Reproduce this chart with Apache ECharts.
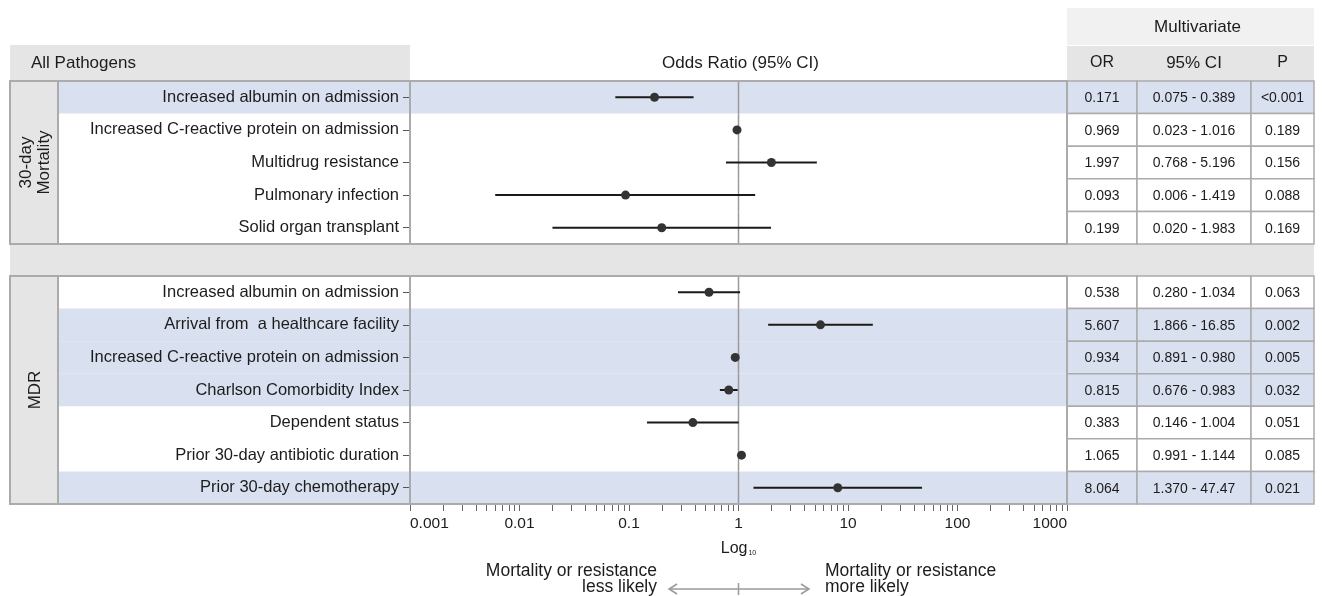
<!DOCTYPE html>
<html>
<head>
<meta charset="utf-8">
<script src="https://cdn.jsdelivr.net/npm/echarts@6/dist/echarts.min.js"></script>
<style>
  html, body { margin: 0; padding: 0; background: #fff; }
  #main { width: 1322px; height: 596px; }
</style>
</head>
<body>
<div id="main"></div>
<script>
// 30-day mortality panel
var mortLabels = ['Increased albumin on admission', 'Increased C-reactive protein on admission', 'Multidrug resistance', 'Pulmonary infection', 'Solid organ transplant']
var mortOR = [0.171, 0.969, 1.997, 0.093, 0.199]
// CI ends as drawn in the plot
var mortLow = [0.075, 0.94, 0.768, 0.006, 0.020]
var mortHigh = [0.389, 1.016, 5.196, 1.419, 1.983]
var mortORText = ['0.171', '0.969', '1.997', '0.093', '0.199']
var mortCIText = ['0.075 - 0.389', '0.023 - 1.016', '0.768 - 5.196', '0.006 - 1.419', '0.020 - 1.983']
var mortP = ['<0.001', '0.189', '0.156', '0.088', '0.169']
var mortBlue = [1, 0, 0, 0, 0]

// MDR panel
var mdrLabels = ['Increased albumin on admission', 'Arrival from  a healthcare facility', 'Increased C-reactive protein on admission', 'Charlson Comorbidity Index', 'Dependent status', 'Prior 30-day antibiotic duration', 'Prior 30-day chemotherapy']
var mdrOR = [0.538, 5.607, 0.934, 0.815, 0.383, 1.065, 8.064]
var mdrLow = [0.280, 1.866, 0.891, 0.676, 0.146, 0.991, 1.370]
var mdrHigh = [1.034, 16.85, 0.980, 0.983, 1.004, 1.144, 47.47]
var mdrORText = ['0.538', '5.607', '0.934', '0.815', '0.383', '1.065', '8.064']
var mdrCIText = ['0.280 - 1.034', '1.866 - 16.85', '0.891 - 0.980', '0.676 - 0.983', '0.146 - 1.004', '0.991 - 1.144', '1.370 - 47.47']
var mdrP = ['0.063', '0.002', '0.005', '0.032', '0.051', '0.085', '0.021']
var mdrBlue = [0, 1, 1, 1, 0, 0, 1]

var tickLabels = [0.001, 0.01, 0.1, 1, 10, 100, 1000]

var FONT = "'Liberation Sans', Arial, sans-serif"
var BLUE = '#d9e0f0'
var GREY = '#e5e5e5'
var LINE = '#ababab'
var TXT = '#1c1c1c'

// layout (px)
var X0 = 10, STRIP = 58, PL = 410, PR = 1067, C1 = 1137, C2 = 1251, TR = 1314
var TOP1 = 81, H1 = 163, TOP2 = 276, H2 = 228

var minorTicks = []
tickLabels.forEach(function (t, k) {
  if (k === tickLabels.length - 1) { minorTicks.push(t); return }
  for (var m = 1; m < 10; m++) minorTicks.push(+(t * m).toPrecision(3))
})

function rowSeries (idx, ors, cis, ps, blue) {
  return {
    type: 'custom',
    xAxisIndex: idx,
    yAxisIndex: idx,
    z: 1,
    silent: true,
    data: ors.map(function (v, i) { return [1, i] }),
    renderItem: function (params, api) {
      var i = api.value(1)
      var y = api.coord([1, i])[1]
      var h = params.coordSys.height / ors.length
      var top = y - h / 2
      var fill = blue[i] ? BLUE : '#fff'
      var kids = []
      if (blue[i]) {
        kids.push({ type: 'rect', shape: { x: STRIP, y: top, width: PR - STRIP, height: h }, style: { fill: BLUE } })
      }
      var cols = [[PR, C1, ors[i]], [C1, C2, cis[i]], [C2, TR, ps[i]]]
      cols.forEach(function (c) {
        kids.push({ type: 'rect', shape: { x: c[0], y: top, width: c[1] - c[0], height: h }, style: { fill: fill, stroke: LINE, lineWidth: 1.5 } })
        kids.push({ type: 'text', x: (c[0] + c[1]) / 2, y: y + 1, style: { text: c[2], fill: TXT, font: '14px ' + FONT, align: 'center', verticalAlign: 'middle' } })
      })
      return { type: 'group', children: kids }
    }
  }
}

function ciSeries (idx, ors, lows, highs) {
  return {
    type: 'custom',
    xAxisIndex: idx,
    yAxisIndex: idx,
    z: 3,
    silent: true,
    encode: { x: 0, y: 1 },
    data: ors.map(function (v, i) { return [v, i, lows[i], highs[i]] }),
    renderItem: function (params, api) {
      var i = api.value(1)
      var p = api.coord([api.value(0), i])
      var lo = api.coord([api.value(2), i])
      var hi = api.coord([api.value(3), i])
      var one = api.coord([1, i])
      var h = params.coordSys.height / ors.length
      return {
        type: 'group',
        children: [
          { type: 'line', shape: { x1: one[0], y1: p[1] - h / 2, x2: one[0], y2: p[1] + h / 2 }, style: { stroke: '#9a9a9a', lineWidth: 1.5 } },
          { type: 'line', shape: { x1: lo[0], y1: p[1], x2: hi[0], y2: p[1] }, style: { stroke: '#1a1a1a', lineWidth: 2 } },
          { type: 'circle', shape: { cx: p[0], cy: p[1], r: 4.5 }, style: { fill: '#333' } }
        ]
      }
    }
  }
}

function yAxisFor (idx, labels) {
  return {
    type: 'category',
    gridIndex: idx,
    data: labels,
    inverse: true,
    z: 5,
    axisLine: { show: false },
    axisTick: { show: true, alignWithLabel: true, length: 7, lineStyle: { color: '#555', width: 1 } },
    axisLabel: { margin: 11, fontSize: 16.5, color: TXT, fontFamily: FONT },
    splitLine: { show: false }
  }
}

var chart = echarts.init(document.getElementById('main'))

var graphics = [
  // headers
  { type: 'rect', z: 0, shape: { x: PR, y: 8, width: TR - PR, height: 37 }, style: { fill: '#f1f1f1' } },
  { type: 'text', z: 20, x: (PR + TR) / 2 + 7, y: 27, style: { text: 'Multivariate', font: '17px ' + FONT, fill: TXT, align: 'center', verticalAlign: 'middle' } },
  { type: 'rect', z: 0, shape: { x: X0, y: 45, width: PL - X0, height: 36 }, style: { fill: GREY } },
  { type: 'text', z: 20, x: 31, y: 63, style: { text: 'All Pathogens', font: '17px ' + FONT, fill: TXT, verticalAlign: 'middle' } },
  { type: 'text', z: 20, x: (PL + PR) / 2 + 2, y: 63, style: { text: 'Odds Ratio (95% CI)', font: '17px ' + FONT, fill: TXT, align: 'center', verticalAlign: 'middle' } },
  { type: 'rect', z: 0, shape: { x: PR, y: 46, width: TR - PR, height: 35 }, style: { fill: GREY } },
  { type: 'text', z: 20, x: (PR + C1) / 2, y: 63, style: { text: 'OR', font: '16px ' + FONT, fill: TXT, align: 'center', verticalAlign: 'middle' } },
  { type: 'text', z: 20, x: (C1 + C2) / 2, y: 63, style: { text: '95% CI', font: '17px ' + FONT, fill: TXT, align: 'center', verticalAlign: 'middle' } },
  { type: 'text', z: 20, x: (C2 + TR) / 2, y: 63, style: { text: 'P', font: '16px ' + FONT, fill: TXT, align: 'center', verticalAlign: 'middle' } },
  // gap band
  { type: 'rect', z: 0, shape: { x: X0, y: TOP1 + H1, width: TR - X0, height: TOP2 - TOP1 - H1 }, style: { fill: GREY } },
  // strips
  { type: 'rect', z: 0, shape: { x: X0, y: TOP1, width: STRIP - X0, height: H1 }, style: { fill: GREY } },
  { type: 'rect', z: 0, shape: { x: X0, y: TOP2, width: STRIP - X0, height: H2 }, style: { fill: GREY } },
  { type: 'text', z: 20, x: 35, y: TOP1 + H1 / 2, rotation: Math.PI / 2, style: { text: '30-day\nMortality', font: '17px ' + FONT, fill: TXT, align: 'center', verticalAlign: 'middle', lineHeight: 18 } },
  { type: 'text', z: 20, x: 35, y: TOP2 + H2 / 2, rotation: Math.PI / 2, style: { text: 'MDR', font: '17px ' + FONT, fill: TXT, align: 'center', verticalAlign: 'middle' } },
  // panel borders
  { type: 'rect', z: 30, shape: { x: X0, y: TOP1, width: PR - X0, height: H1 }, style: { fill: null, stroke: LINE, lineWidth: 2 } },
  { type: 'rect', z: 30, shape: { x: X0, y: TOP2, width: PR - X0, height: H2 }, style: { fill: null, stroke: LINE, lineWidth: 2 } },
  { type: 'line', z: 30, shape: { x1: STRIP, y1: TOP1, x2: STRIP, y2: TOP1 + H1 }, style: { stroke: LINE, lineWidth: 2 } },
  { type: 'line', z: 30, shape: { x1: STRIP, y1: TOP2, x2: STRIP, y2: TOP2 + H2 }, style: { stroke: LINE, lineWidth: 2 } },
  { type: 'line', z: 30, shape: { x1: PL, y1: TOP1, x2: PL, y2: TOP1 + H1 }, style: { stroke: LINE, lineWidth: 2 } },
  { type: 'line', z: 30, shape: { x1: PL, y1: TOP2, x2: PL, y2: TOP2 + H2 }, style: { stroke: LINE, lineWidth: 2 } },
  // bottom annotation
  { type: 'text', z: 20, x: 657, y: 579, style: { text: 'Mortality or resistance\nless likely', font: '17.5px ' + FONT, fill: TXT, align: 'right', verticalAlign: 'middle', lineHeight: 16 } },
  { type: 'text', z: 20, x: 825, y: 579, style: { text: 'Mortality or resistance\nmore likely', font: '17.5px ' + FONT, fill: TXT, align: 'left', verticalAlign: 'middle', lineHeight: 16 } },
  { type: 'line', z: 20, shape: { x1: 669, y1: 589, x2: 809, y2: 589 }, style: { stroke: '#9a9a9a', lineWidth: 1.5 } },
  { type: 'line', z: 20, shape: { x1: 738.5, y1: 583, x2: 738.5, y2: 595 }, style: { stroke: '#9a9a9a', lineWidth: 1.5 } },
  { type: 'polyline', z: 20, shape: { points: [[677, 584], [669, 589], [677, 594]] }, style: { stroke: '#9a9a9a', lineWidth: 1.5, fill: null } },
  { type: 'polyline', z: 20, shape: { points: [[801, 584], [809, 589], [801, 594]] }, style: { stroke: '#9a9a9a', lineWidth: 1.5, fill: null } }
]

var option = {
  animation: false,
  textStyle: { fontFamily: FONT },
  grid: [
    { left: PL, width: PR - PL, top: TOP1, height: H1, containLabel: false, show: true, borderColor: LINE, borderWidth: 2, backgroundColor: 'transparent' },
    { left: PL, width: PR - PL, top: TOP2, height: H2, containLabel: false, show: true, borderColor: LINE, borderWidth: 2, backgroundColor: 'transparent' }
  ],
  xAxis: [
    { type: 'log', logBase: 10, gridIndex: 0, min: 0.001, max: 1000, show: false },
    {
      type: 'log',
      logBase: 10,
      gridIndex: 1,
      min: 0.001,
      max: 1000,
      z: 5,
      axisLine: { show: true, lineStyle: { color: LINE, width: 2 } },
      axisTick: { show: true, length: 7, customValues: minorTicks, lineStyle: { color: '#666', width: 1 } },
      minorTick: { show: false },
      splitLine: { show: false },
      axisLabel: {
        customValues: tickLabels,
        margin: 12,
        fontSize: 15.5,
        color: TXT,
        fontFamily: FONT,
        alignMinLabel: 'left',
        alignMaxLabel: 'right',
        formatter: function (v) { return String(+(+v).toPrecision(3)) }
      },
      name: '{a|Log}{b|10}',
      nameLocation: 'middle',
      nameGap: 37,
      nameTextStyle: {
        rich: {
          a: { fontSize: 16, color: TXT, fontFamily: FONT },
          b: { fontSize: 7, color: TXT, fontFamily: FONT, verticalAlign: 'bottom', padding: [7, 0, 0, 1] }
        }
      }
    }
  ],
  yAxis: [yAxisFor(0, mortLabels), yAxisFor(1, mdrLabels)],
  graphic: graphics,
  series: [
    rowSeries(0, mortORText, mortCIText, mortP, mortBlue),
    rowSeries(1, mdrORText, mdrCIText, mdrP, mdrBlue),
    ciSeries(0, mortOR, mortLow, mortHigh),
    ciSeries(1, mdrOR, mdrLow, mdrHigh)
  ]
}

chart.setOption(option)
</script>
</body>
</html>
